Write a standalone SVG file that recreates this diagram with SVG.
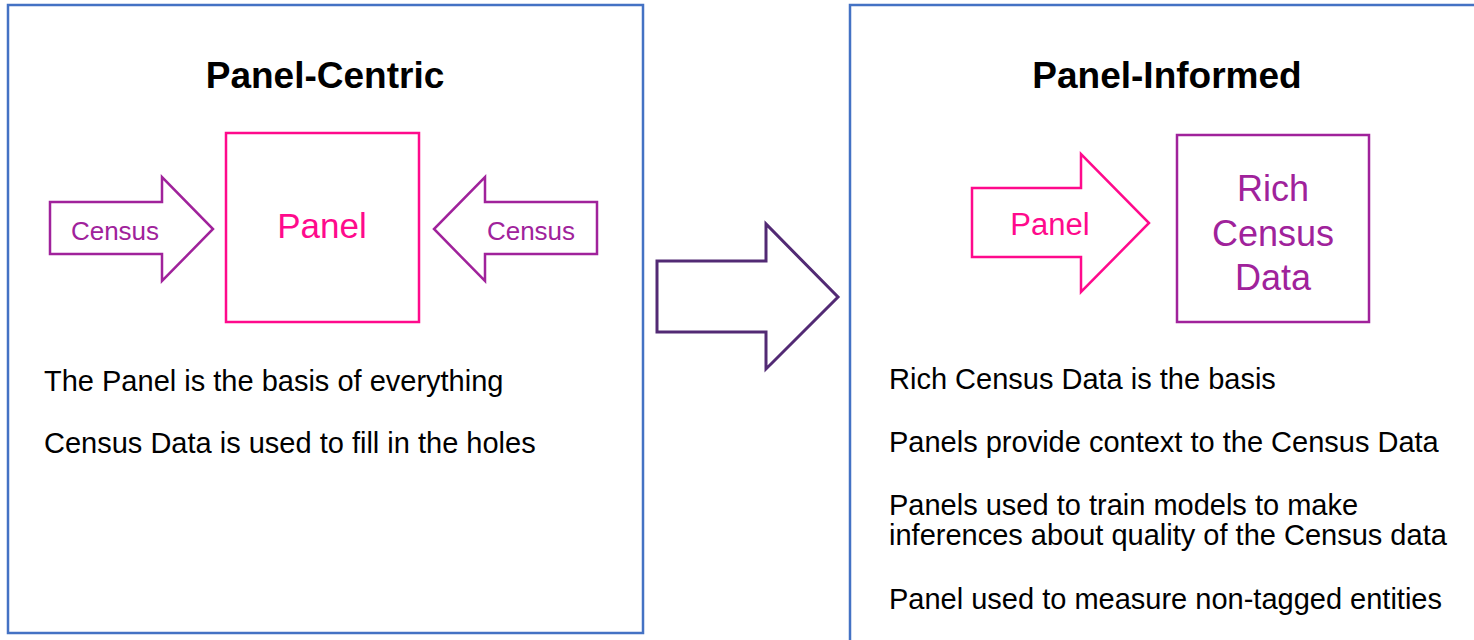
<svg xmlns="http://www.w3.org/2000/svg" width="1474" height="640" viewBox="0 0 1474 640">
  <style>
    .frame { fill: #ffffff; stroke: #4472C4; stroke-width: 2.5; }
    .pink { fill: none; stroke: #FF0A8C; stroke-width: 2.5; }
    .purple { fill: none; stroke: #A0229B; stroke-width: 2.5; }
    .dark { fill: none; stroke: #522A74; stroke-width: 3; }
    text { font-family: "Liberation Sans", Arial, sans-serif; }
    .title { font-size: 37px; font-weight: bold; fill: #000000; text-anchor: middle; }
    .body { font-size: 29px; fill: #000000; }
    .tp { fill: #FF0A8C; text-anchor: middle; }
    .tv { fill: #A0229B; text-anchor: middle; }
  </style>
  <rect width="1474" height="640" fill="#ffffff"/>

  <!-- Left panel: panel-centric model -->
  <g id="panel-centric">
    <rect class="frame" x="8" y="5" width="635" height="628"/>
    <text class="title" x="325" y="88">Panel-Centric</text>
    <text class="body" x="44" y="391">The Panel is the basis of everything</text>
    <text class="body" x="44" y="453">Census Data is used to fill in the holes</text>
  </g>

  <g id="panel-box">
    <rect class="pink" x="226" y="133" width="193" height="189"/>
    <text class="tp" x="322" y="238" font-size="35">Panel</text>
  </g>

  <g id="census-left">
    <polygon class="purple" points="50,202 162,202 162,177 213,229 162,281 162,254 50,254"/>
    <text class="tv" x="115" y="240" font-size="26">Census</text>
  </g>

  <g id="census-right">
    <polygon class="purple" points="597,202 485,202 485,177 434,229 485,281 485,254 597,254"/>
    <text class="tv" x="531" y="240" font-size="26">Census</text>
  </g>

  <!-- Right panel: panel-informed model -->
  <g id="panel-informed">
    <rect class="frame" x="850" y="5" width="640" height="660"/>
    <text class="title" x="1167" y="88">Panel-Informed</text>
    <text class="body" x="889" y="389">Rich Census Data is the basis</text>
    <text class="body" x="889" y="452">Panels provide context to the Census Data</text>
    <text class="body" x="889" y="515">Panels used to train models to make</text>
    <text class="body" x="889" y="545">inferences about quality of the Census data</text>
    <text class="body" x="889" y="609">Panel used to measure non-tagged entities</text>
  </g>

  <g id="panel-arrow">
    <polygon class="pink" points="972,188 1081,188 1081,154 1149,223 1081,292 1081,257 972,257"/>
    <text class="tp" x="1050" y="235" font-size="31">Panel</text>
  </g>

  <g id="rich-census-box">
    <rect class="purple" x="1177" y="135" width="192" height="187"/>
    <text class="tv" x="1273" y="201" font-size="36">Rich</text>
    <text class="tv" x="1273" y="246" font-size="36">Census</text>
    <text class="tv" x="1273" y="290" font-size="36">Data</text>
  </g>

  <!-- Transition between the two models -->
  <g id="connectors">
    <polygon class="dark" points="657,261 766,261 766,224 838,297 766,369 766,332 657,332"/>
  </g>
</svg>
